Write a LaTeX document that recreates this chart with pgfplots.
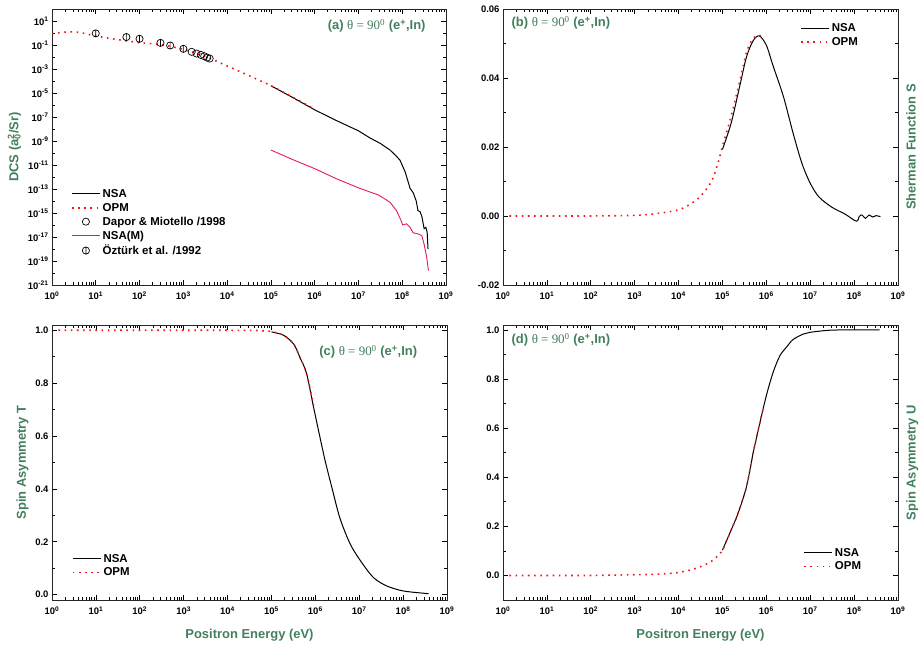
\documentclass[border=0pt]{standalone}
\usepackage{pgfplots}
\pgfplotsset{compat=1.18}
\usepackage{fontspec}
\setmainfont{Liberation Sans}
\newfontfamily\tnr{Liberation Serif}
\definecolor{tgreen}{RGB}{66,128,92}
\definecolor{opmred}{RGB}{245,20,20}
\definecolor{nsam}{RGB}{232,22,100}
\newcommand{\tk}[1]{10\textsuperscript{#1}}
\pgfdeclareplotmark{obar}{%
  \pgfpathcircle{\pgfpointorigin}{\pgfplotmarksize}%
  \pgfpathmoveto{\pgfpoint{0pt}{-\pgfplotmarksize}}%
  \pgfpathlineto{\pgfpoint{0pt}{\pgfplotmarksize}}%
  \pgfusepathqstroke}
\pgfplotsset{
  linelegend/.style={legend image code/.code={\draw[##1] (0bp,0bp) -- (28bp,0bp);}},
  markleg/.style={legend image code/.code={\draw[mark repeat=2,mark phase=2,##1] plot coordinates {(0bp,0bp) (14bp,0bp) (28bp,0bp)};}},
}
\newcommand{\ttext}[1]{\textbf{(#1)} {\tnr θ = 90\textsuperscript{0}} \textbf{(e\textsuperscript{+},In)}}
\begin{document}
\begin{tikzpicture}
\path[use as bounding box] (0,0) rectangle (921bp,-647bp);
% ---------------- (a)
\begin{axis}[scale only axis, width=394bp, height=276bp,
  at={(52bp,-9bp)}, anchor=north west,
  xmode=log, log basis x=10, xmin=1, xmax=1e9,
  xtick={1,10,100,1000,1e4,1e5,1e6,1e7,1e8,1e9},
  minor xtick={2,3,4,5,6,7,8,9,20,30,40,50,60,70,80,90,200,300,400,500,600,700,800,900,2000,3000,4000,5000,6000,7000,8000,9000,2e4,3e4,4e4,5e4,6e4,7e4,8e4,9e4,2e5,3e5,4e5,5e5,6e5,7e5,8e5,9e5,2e6,3e6,4e6,5e6,6e6,7e6,8e6,9e6,2e7,3e7,4e7,5e7,6e7,7e7,8e7,9e7,2e8,3e8,4e8,5e8,6e8,7e8,8e8,9e8},
  xticklabels={\tk{0},\tk{1},\tk{2},\tk{3},\tk{4},\tk{5},\tk{6},\tk{7},\tk{8},\tk{9}},
  xticklabel style={yshift=-3bp},
  tick align=inside, major tick length=5bp, minor tick length=3bp,
  tick style={black, line width=0.7pt},
  axis line style={line width=0.8pt, black!85},
  tick label style={font=\bfseries\fontsize{9.5}{11}\selectfont},
  label style={font=\bfseries\fontsize{13}{15}\selectfont, text=tgreen},
  legend style={draw=none, fill=none, inner sep=0pt, anchor=north west,
      font=\bfseries\fontsize{11.5}{13}\selectfont, row sep=0.3bp,
      at={(axis description cs:0.048,0.355)}},
  legend cell align=left, linelegend,
  ymode=log, log basis y=10, ymin=1e-21, ymax=1e2,
  ytick={1e-21,1e-19,1e-17,1e-15,1e-13,1e-11,1e-9,1e-7,1e-5,1e-3,1e-1,1e1},
  yticklabels={\tk{-21},\tk{-19},\tk{-17},\tk{-15},\tk{-13},\tk{-11},\tk{-9},\tk{-7},\tk{-5},\tk{-3},\tk{-1},\tk{1}},
  minor ytick={1e-20,1e-18,1e-16,1e-14,1e-12,1e-10,1e-8,1e-6,1e-4,1e-2,1,1e2},
  ylabel={DCS (a\rlap{\textsuperscript{2}}\textsubscript{0}/Sr)},
]
\addplot[black, line width=1pt] coordinates {
(1e5,4.07e-5) (3.162e5,4.17e-6) (1e6,3.98e-7) (3.162e6,5.01e-8) (1e7,7.08e-9)
(1.84e7,1.78e-9) (3.162e7,6.31e-10) (5.25e7,1.78e-10) (7.08e7,6.31e-11) (8.91e7,2.51e-11)
(1.175e8,2.51e-12) (1.514e8,1.12e-13) (1.778e8,5.01e-14) (2.089e8,1e-14) (2.291e8,1.58e-15)
(2.570e8,1.26e-15) (2.818e8,5.01e-16) (3.162e8,5.01e-17) (3.467e8,6.31e-17) (3.715e8,2.51e-17) (3.890e8,1e-18)};
\addlegendentry{NSA}
\addplot[opmred, line width=1.6pt, dash pattern=on 1.6pt off 4.6pt, smooth] coordinates {
(1,0.871) (1.585,1.096) (2.818,1.259) (5.012,1.0) (10,0.562) (31.62,0.282) (100,0.158)
(316.2,0.105) (1000,0.0427) (3162,0.0112) (1e4,1.78e-3) (3.162e4,2.82e-4) (1e5,4.07e-5)
(3.162e5,4.47e-6) (9.3e5,5.2e-7)};
\addlegendentry{OPM}
\addplot[only marks, mark=o, mark size=3.6bp, black, line width=0.7pt, markleg] coordinates {
(1550,0.027) (2000,0.0195) (2500,0.015) (3000,0.0117) (3500,0.0089) (4000,0.0074)};
\addlegendentry{Dapor \& Miotello /1998}
\addplot[nsam, line width=0.9pt] coordinates {
(1e5,1.78e-10) (3.162e5,2.82e-11) (1e6,5.01e-12) (3.162e6,7.08e-13) (1e7,1.26e-13)
(1.84e7,5.62e-14) (2.884e7,3.16e-14) (5.25e7,7.94e-15) (7.413e7,1.58e-15) (9.333e7,2.51e-16)
(1.023e8,1e-16) (1.259e8,1.26e-16) (1.514e8,6.31e-17) (1.778e8,2.24e-17) (2.344e8,1.78e-17)
(2.818e8,1.26e-17) (3.162e8,2.51e-18) (3.631e8,2e-19) (3.981e8,1.58e-20)};
\addlegendentry{NSA(M)}
\addplot[only marks, mark=obar, mark size=3.6bp, black, line width=0.7pt, markleg] coordinates {
(10,0.93) (50,0.46) (100,0.33) (300,0.15) (500,0.091) (1000,0.048)};
\addlegendentry{Öztürk et al. /1992}
\node[font=\fontsize{13}{15}\selectfont, text=tgreen, anchor=east] at (axis description cs:0.957,0.938) {\ttext{a}};
\end{axis}
% ---------------- (b)
\begin{axis}[scale only axis, width=395bp, height=276bp,
  at={(503bp,-9bp)}, anchor=north west,
  xmode=log, log basis x=10, xmin=1, xmax=1e9,
  xtick={1,10,100,1000,1e4,1e5,1e6,1e7,1e8,1e9},
  minor xtick={2,3,4,5,6,7,8,9,20,30,40,50,60,70,80,90,200,300,400,500,600,700,800,900,2000,3000,4000,5000,6000,7000,8000,9000,2e4,3e4,4e4,5e4,6e4,7e4,8e4,9e4,2e5,3e5,4e5,5e5,6e5,7e5,8e5,9e5,2e6,3e6,4e6,5e6,6e6,7e6,8e6,9e6,2e7,3e7,4e7,5e7,6e7,7e7,8e7,9e7,2e8,3e8,4e8,5e8,6e8,7e8,8e8,9e8},
  xticklabels={\tk{0},\tk{1},\tk{2},\tk{3},\tk{4},\tk{5},\tk{6},\tk{7},\tk{8},\tk{9}},
  xticklabel style={yshift=-3bp},
  tick align=inside, major tick length=5bp, minor tick length=3bp,
  tick style={black, line width=0.7pt},
  axis line style={line width=0.8pt, black!85},
  tick label style={font=\bfseries\fontsize{9.5}{11}\selectfont},
  label style={font=\bfseries\fontsize{13}{15}\selectfont, text=tgreen},
  legend style={draw=none, fill=none, inner sep=0pt, anchor=north west,
      font=\bfseries\fontsize{11.5}{13}\selectfont, row sep=0.3bp,
      at={(axis description cs:0.752,0.955)}},
  legend cell align=left, linelegend,
  ymin=-0.02, ymax=0.06, ytick={-0.02,0,0.02,0.04,0.06}, minor y tick num=1,
  scaled y ticks=false,
  yticklabel style={/pgf/number format/fixed, /pgf/number format/fixed zerofill,
     /pgf/number format/precision=2, /pgf/number format/assume math mode=true},
  ylabel={Sherman Function S},
  ylabel style={at={(axis description cs:1.012,0.5)}, anchor=north},
]
\addplot[black, line width=1pt, smooth] coordinates {
(1e5,0.0193) (1.585e5,0.0270) (2.512e5,0.0380) (3.548e5,0.0462) (5.012e5,0.0508) (6.918e5,0.0522)
(1e6,0.0495) (1.445e6,0.0433) (2.455e6,0.0346) (4.074e6,0.0240) (6.457e6,0.0153) (1e7,0.0095)
(1.585e7,0.0055) (3.162e7,0.0025) (6.310e7,0.0005) (1.122e8,-0.0015) (1.318e8,-0.0001)
(1.514e8,0.0003) (1.820e8,-0.0007) (2.188e8,0.0003) (2.630e8,-0.0003) (3.162e8,0.0001) (3.981e8,-0.0002)};
\addlegendentry{NSA}
\addplot[opmred, line width=1.6pt, dash pattern=on 1.6pt off 4.6pt, smooth] coordinates {
(1.4,0) (10,0) (100,0) (1000,0.0002) (3162,0.0007) (1e4,0.0018) (1.778e4,0.0033) (3.162e4,0.0057)
(5.623e4,0.010) (7.943e4,0.0154) (1e5,0.0202) (1.585e5,0.029) (2.512e5,0.0394) (3.548e5,0.0475)
(5.012e5,0.0515) (6.918e5,0.0524) (8.5e5,0.0512)};
\addlegendentry{OPM}
\node[font=\fontsize{13}{15}\selectfont, text=tgreen, anchor=west] at (axis description cs:0.013,0.949) {\ttext{b}};
\end{axis}
% ---------------- (c)
\begin{axis}[scale only axis, width=395bp, height=275bp,
  at={(52bp,-325bp)}, anchor=north west,
  xmode=log, log basis x=10, xmin=1, xmax=1e9,
  xtick={1,10,100,1000,1e4,1e5,1e6,1e7,1e8,1e9},
  minor xtick={2,3,4,5,6,7,8,9,20,30,40,50,60,70,80,90,200,300,400,500,600,700,800,900,2000,3000,4000,5000,6000,7000,8000,9000,2e4,3e4,4e4,5e4,6e4,7e4,8e4,9e4,2e5,3e5,4e5,5e5,6e5,7e5,8e5,9e5,2e6,3e6,4e6,5e6,6e6,7e6,8e6,9e6,2e7,3e7,4e7,5e7,6e7,7e7,8e7,9e7,2e8,3e8,4e8,5e8,6e8,7e8,8e8,9e8},
  xticklabels={\tk{0},\tk{1},\tk{2},\tk{3},\tk{4},\tk{5},\tk{6},\tk{7},\tk{8},\tk{9}},
  xticklabel style={yshift=-3bp},
  xlabel style={yshift=-7bp},
  tick align=inside, major tick length=5bp, minor tick length=3bp,
  tick style={black, line width=0.7pt},
  axis line style={line width=0.8pt, black!85},
  tick label style={font=\bfseries\fontsize{9.5}{11}\selectfont},
  label style={font=\bfseries\fontsize{13}{15}\selectfont, text=tgreen},
  legend style={draw=none, fill=none, inner sep=0pt, anchor=north west,
      font=\bfseries\fontsize{11.5}{13}\selectfont, row sep=0.3bp,
      at={(axis description cs:0.05,0.175)}},
  legend cell align=left, linelegend,
  ymin=-0.02, ymax=1.02, ytick={0,0.2,0.4,0.6,0.8,1}, minor y tick num=1,
  yticklabel style={/pgf/number format/fixed, /pgf/number format/fixed zerofill,
     /pgf/number format/precision=1, /pgf/number format/assume math mode=true},
  ylabel={Spin Asymmetry T}, xlabel={Positron Energy (eV)},
]
\addplot[black, line width=1pt, smooth] coordinates {
(1e5,0.994) (1.905e5,0.981) (3.236e5,0.947) (4.467e5,0.897) (6.310e5,0.837) (8.913e5,0.717)
(1.175e6,0.623) (1.660e6,0.509) (2.344e6,0.410) (3.631e6,0.290) (6.310e6,0.190) (1.148e7,0.121)
(2.138e7,0.064) (4.266e7,0.033) (1.023e8,0.014) (3.802e8,0.004)};
\addlegendentry{NSA}
\addplot[opmred, line width=1.6pt, dash pattern=on 1.6pt off 4.6pt, smooth] coordinates {
(1.4,1.0) (10,1.0) (100,1.0) (1000,1.0) (1e4,1.0) (5e4,0.999) (1e5,0.995) (1.905e5,0.981)
(3.236e5,0.947) (4.467e5,0.897) (6.310e5,0.837) (9.3e5,0.71)};
\addlegendentry{OPM}
\node[font=\fontsize{13}{15}\selectfont, text=tgreen, anchor=west] at (axis description cs:0.668,0.902) {\ttext{c}};
\end{axis}
% ---------------- (d)
\begin{axis}[scale only axis, width=395bp, height=275bp,
  at={(503bp,-325bp)}, anchor=north west,
  xmode=log, log basis x=10, xmin=1, xmax=1e9,
  xtick={1,10,100,1000,1e4,1e5,1e6,1e7,1e8,1e9},
  minor xtick={2,3,4,5,6,7,8,9,20,30,40,50,60,70,80,90,200,300,400,500,600,700,800,900,2000,3000,4000,5000,6000,7000,8000,9000,2e4,3e4,4e4,5e4,6e4,7e4,8e4,9e4,2e5,3e5,4e5,5e5,6e5,7e5,8e5,9e5,2e6,3e6,4e6,5e6,6e6,7e6,8e6,9e6,2e7,3e7,4e7,5e7,6e7,7e7,8e7,9e7,2e8,3e8,4e8,5e8,6e8,7e8,8e8,9e8},
  xticklabels={\tk{0},\tk{1},\tk{2},\tk{3},\tk{4},\tk{5},\tk{6},\tk{7},\tk{8},\tk{9}},
  xticklabel style={yshift=-3bp},
  xlabel style={yshift=-7bp},
  tick align=inside, major tick length=5bp, minor tick length=3bp,
  tick style={black, line width=0.7pt},
  axis line style={line width=0.8pt, black!85},
  tick label style={font=\bfseries\fontsize{9.5}{11}\selectfont},
  label style={font=\bfseries\fontsize{13}{15}\selectfont, text=tgreen},
  legend style={draw=none, fill=none, inner sep=0pt, anchor=north west,
      font=\bfseries\fontsize{11.5}{13}\selectfont, row sep=0.3bp,
      at={(axis description cs:0.76,0.197)}},
  legend cell align=left, linelegend,
  ymin=-0.1, ymax=1.02, ytick={0,0.2,0.4,0.6,0.8,1}, minor y tick num=1,
  yticklabel style={/pgf/number format/fixed, /pgf/number format/fixed zerofill,
     /pgf/number format/precision=1, /pgf/number format/assume math mode=true},
  ylabel={Spin Asymmetry U}, xlabel={Positron Energy (eV)},
  ylabel style={at={(axis description cs:1.012,0.5)}, anchor=north},
]
\addplot[black, line width=1pt, smooth] coordinates {
(1e5,0.103) (1.479e5,0.173) (2.291e5,0.255) (3.548e5,0.363) (5.012e5,0.499) (7.244e5,0.627)
(1.023e6,0.739) (1.445e6,0.830) (2.042e6,0.895) (2.884e6,0.930) (4.074e6,0.961) (6.918e6,0.983)
(9.772e6,0.990) (2.399e7,0.998) (5.623e7,1.0) (3.802e8,1.0)};
\addlegendentry{NSA}
\addplot[opmred, line width=1.6pt, dash pattern=on 1.6pt off 4.6pt, smooth] coordinates {
(1.4,0) (10,0) (100,0) (933,0.003) (3162,0.005) (9120,0.011) (1.82e4,0.022) (3.09e4,0.035)
(5.25e4,0.054) (7.41e4,0.076) (1e5,0.103) (1.479e5,0.173) (2.291e5,0.255) (3.548e5,0.363)
(5.012e5,0.499) (7.244e5,0.627) (8.71e5,0.69)};
\addlegendentry{OPM}
\node[font=\fontsize{13}{15}\selectfont, text=tgreen, anchor=west] at (axis description cs:0.013,0.945) {\ttext{d}};
\end{axis}
\end{tikzpicture}
\end{document}
